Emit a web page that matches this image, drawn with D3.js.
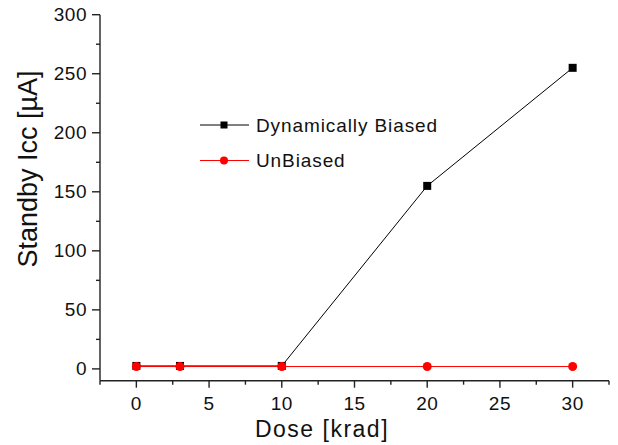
<!DOCTYPE html>
<html>
<head>
<meta charset="utf-8">
<script src="https://cdn.jsdelivr.net/npm/d3@7"></script>
<style>
  body { margin: 0; background: #fff; }
  svg { display: block; font-family: Arial, "Liberation Sans", sans-serif; }
</style>
</head>
<body>
<svg id="chart" width="618" height="445"></svg>
<script>
/************** Data **************/
const doses = [0, 3, 10, 20, 30];                    // krad
const dynamicBiased = [2.5, 2.5, 2.5, 155, 255];     // µA
const unBiased = [2, 2, 2, 2, 2];                     // µA
const xTicks = [0, 5, 10, 15, 20, 25, 30];
const yTicks = [0, 50, 100, 150, 200, 250, 300];
const seriesNames = ["Dynamically Biased", "UnBiased"];

/************** Layout **************/
const svg = d3.select("#chart");
const plotL = 100, plotR = 609, plotT = 14.7, plotB = 380.7;

const x = d3.scaleLinear().domain([-2.5, 32.5]).range([plotL, plotR]);
const y = d3.scaleLinear().domain([-10, 300]).range([plotB, plotT]);

/************** Axes **************/
const axisG = svg.append("g").attr("stroke", "#222").attr("stroke-width", 1.4);

axisG.append("line").attr("x1", plotL).attr("x2", plotL).attr("y1", plotT).attr("y2", plotB);
axisG.append("line").attr("x1", plotL).attr("x2", plotR).attr("y1", plotB).attr("y2", plotB);

// x ticks: major every 5, minor at the halves
d3.range(-2.5, 33, 2.5).forEach(v => {
  const major = xTicks.includes(v);
  axisG.append("line")
    .attr("x1", x(v)).attr("x2", x(v))
    .attr("y1", plotB).attr("y2", plotB + (major ? 7 : 4));
});
// y ticks: major every 50, minor at 25s
d3.range(0, 301, 25).forEach(v => {
  const major = yTicks.includes(v);
  axisG.append("line")
    .attr("x1", plotL - (major ? 8 : 4)).attr("x2", plotL)
    .attr("y1", y(v)).attr("y2", y(v));
});

svg.append("g").selectAll("text")
  .data(xTicks)
  .join("text")
    .attr("x", d => x(d)).attr("y", 409.5)
    .attr("text-anchor", "middle")
    .attr("font-size", 19).attr("letter-spacing", 0.5)
    .attr("fill", "#111")
    .text(d => d);

svg.append("g").selectAll("text")
  .data(yTicks)
  .join("text")
    .attr("x", 87).attr("y", d => y(d) + 6.5)
    .attr("text-anchor", "end")
    .attr("font-size", 19).attr("letter-spacing", 0.5)
    .attr("fill", "#111")
    .text(d => d);

// axis titles
svg.append("text")
  .attr("x", 322).attr("y", 437)
  .attr("text-anchor", "middle")
  .attr("font-size", 23).attr("letter-spacing", 1.5)
  .attr("fill", "#111")
  .text("Dose [krad]");

svg.append("text")
  .attr("transform", "translate(37,169) rotate(-90)")
  .attr("text-anchor", "middle")
  .attr("font-size", 27)
  .attr("fill", "#111")
  .text("Standby Icc [µA]");

/************** Series **************/
const line = d3.line().x(d => x(d[0])).y(d => y(d[1]));
const dynPts = doses.map((d, i) => [d, dynamicBiased[i]]);
const unbPts = doses.map((d, i) => [d, unBiased[i]]);

svg.append("path").datum(dynPts)
  .attr("d", line).attr("fill", "none").attr("stroke", "#000").attr("stroke-width", 1);
svg.append("g").selectAll("rect")
  .data(dynPts)
  .join("rect")
    .attr("x", d => x(d[0]) - 4).attr("y", d => y(d[1]) - 4)
    .attr("width", 8).attr("height", 8)
    .attr("fill", "#000");

svg.append("path").datum(unbPts)
  .attr("d", line).attr("fill", "none").attr("stroke", "#ff0000").attr("stroke-width", 1);
svg.append("g").selectAll("circle")
  .data(unbPts)
  .join("circle")
    .attr("cx", d => x(d[0])).attr("cy", d => y(d[1]))
    .attr("r", 4.5)
    .attr("fill", "#ff0000");

/************** Legend **************/
const legend = svg.append("g");
const legendRows = [
  { name: seriesNames[0], color: "#000", shape: "square", y: 125 },
  { name: seriesNames[1], color: "#ff0000", shape: "circle", y: 160.5 }
];
legendRows.forEach(r => {
  legend.append("line")
    .attr("x1", 200).attr("x2", 249).attr("y1", r.y).attr("y2", r.y)
    .attr("stroke", r.color).attr("stroke-width", 1);
  if (r.shape === "square") {
    legend.append("rect").attr("x", 220.5).attr("y", r.y - 3.5)
      .attr("width", 7).attr("height", 7).attr("fill", r.color);
  } else {
    legend.append("circle").attr("cx", 224).attr("cy", r.y).attr("r", 4).attr("fill", r.color);
  }
  legend.append("text")
    .attr("x", 256).attr("y", r.y + 6.5)
    .attr("font-size", 19).attr("letter-spacing", 0.9)
    .attr("fill", "#111")
    .text(r.name);
});
</script>
</body>
</html>
